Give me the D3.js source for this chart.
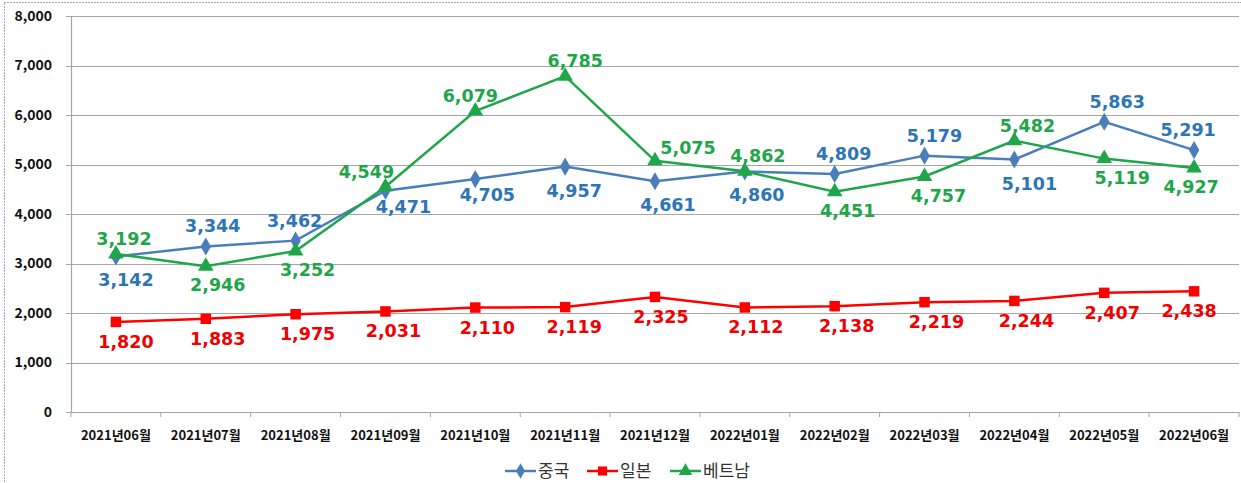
<!DOCTYPE html>
<html>
<head>
<meta charset="utf-8">
<script src="https://cdn.jsdelivr.net/npm/d3@7"></script>
<style>
  body { margin: 0; background: #fff; }
  text { font-family: "Noto Sans CJK KR", "Noto Sans", sans-serif; }
</style>
</head>
<body>
<div id="chart-area"></div>
<script>
// data
var months = ["2021년06월", "2021년07월", "2021년08월", "2021년09월", "2021년10월", "2021년11월",
              "2021년12월", "2022년01월", "2022년02월", "2022년03월", "2022년04월", "2022년05월", "2022년06월"];
var china   = [3142, 3344, 3462, 4471, 4705, 4957, 4661, 4860, 4809, 5179, 5101, 5863, 5291];
var japan   = [1820, 1883, 1975, 2031, 2110, 2119, 2325, 2112, 2138, 2219, 2244, 2407, 2438];
var vietnam = [3192, 2946, 3252, 4549, 6079, 6785, 5075, 4862, 4451, 4757, 5482, 5119, 4927];
var yTicks  = [0, 1000, 2000, 3000, 4000, 5000, 6000, 7000, 8000];
var names   = ["중국", "일본", "베트남"];

// label placement: "t" above, "b" below, "r" beside; plus manual nudges as in the original
var chinaPos   = ["b","t","t","b","b","b","b","b","t","t","b","t","t"];
var japanPos   = ["b","b","b","b","b","b","b","b","b","b","b","b","b"];
var vietnamPos = ["t","b","b","t","t","t","r","t","b","b","t","b","b"];
var chinaDx    = [10, 7, -1, 18, 12, 9, 13, 12, 9, 10, 15, 13, -6];
var japanDx    = [10, 12, 12, 8, 12, 9, 6, 11, 12, 12, 12, 8, -5];
var vietnamDx  = [8, 12, 12, -19, -5, 10, 33, 13, 13, 14, 13, 18, -3];
var chinaDy    = [0, 0, 0, -8, -8, 0, 0, 0, 0, 0, 0, 0, 0];

var W = 1241, H = 483;
var margin = { left: 71, right: 2, top: 16, bottom: 71 };
var width = W - margin.left - margin.right,
    height = H - margin.top - margin.bottom;

var svg = d3.select("#chart-area")
    .append("svg")
        .attr("width", W)
        .attr("height", H);

// dotted outer frame
svg.append("rect")
    .attr("x", 4.5).attr("y", 2.5)
    .attr("width", W + 10).attr("height", H + 10)
    .attr("fill", "none")
    .attr("stroke", "#555")
    .attr("stroke-width", 1)
    .attr("stroke-dasharray", "1,2");

var g = svg.append("g")
    .attr("transform", "translate(" + margin.left + "," + margin.top + ")");

var x = d3.scaleBand()
    .domain(months)
    .range([0, width]);

var y = d3.scaleLinear()
    .domain([0, 8000])
    .range([height, 0]);

// gridlines
g.append("g")
    .selectAll("line")
    .data(yTicks)
    .enter().append("line")
        .attr("x1", -5)
        .attr("x2", width)
        .attr("y1", d => Math.round(y(d)) + 0.5)
        .attr("y2", d => Math.round(y(d)) + 0.5)
        .attr("stroke", "#a6a6a6")
        .attr("stroke-width", 1.2);

// y axis
var yAxisCall = d3.axisLeft(y)
    .tickValues(yTicks)
    .tickSize(0)
    .tickPadding(19)
    .tickFormat(d3.format(","));
var yAx = g.append("g").call(yAxisCall);
yAx.select(".domain").attr("stroke", "#a6a6a6").attr("stroke-width", 1.2);
yAx.selectAll("text")
    .attr("font-size", "14px")
    .attr("font-weight", "bold")
    .attr("fill", "#111");

// x axis
var xAxisCall = d3.axisBottom(x).tickSize(0).tickPadding(19);
var xAx = g.append("g")
    .attr("transform", "translate(0," + height + ")")
    .call(xAxisCall);
xAx.select(".domain").attr("stroke", "#a6a6a6").attr("stroke-width", 1.2);
xAx.selectAll("text")
    .attr("font-size", "13px")
    .attr("font-weight", "bold")
    .attr("fill", "#111");
xAx.append("g")
    .selectAll("line")
    .data(months.concat(["end"]))
    .enter().append("line")
        .attr("x1", (d, i) => i * x.bandwidth())
        .attr("x2", (d, i) => i * x.bandwidth())
        .attr("y1", 0).attr("y2", 5)
        .attr("stroke", "#a6a6a6");

var zeros = months.map(() => 0);
var series = [
    { name: names[0], values: china,   pos: chinaPos,   dx: chinaDx,   dy: chinaDy, above: -14, below: 30,
      color: "#4a7ebb", label: "#2e75b6", symbol: d3.symbolDiamond,  size: 95 },
    { name: names[1], values: japan,   pos: japanPos,   dx: japanDx,   dy: zeros,   above: -12, below: 26,
      color: "#ff0000", label: "#f00000", symbol: d3.symbolSquare,   size: 110 },
    { name: names[2], values: vietnam, pos: vietnamPos, dx: vietnamDx, dy: zeros,   above: -9,  below: 25,
      color: "#1fa64a", label: "#1fa64a", symbol: d3.symbolTriangle, size: 105 }
];

var cx = (d, i) => x(months[i]) + x.bandwidth() / 2;

var line = d3.line()
    .x(cx)
    .y(d => y(d));

series.forEach(s => {
    g.append("path")
        .datum(s.values)
        .attr("fill", "none")
        .attr("stroke", s.color)
        .attr("stroke-width", 2.5)
        .attr("d", line);

    g.selectAll(null)
        .data(s.values)
        .enter().append("path")
            .attr("d", d3.symbol().type(s.symbol).size(s.size))
            .attr("transform", (d, i) => "translate(" + cx(d, i) + "," + y(d) + ")")
            .attr("fill", s.color);
});

series.forEach(s => {
    g.selectAll(null)
        .data(s.values)
        .enter().append("text")
            .attr("x", (d, i) => cx(d, i) + s.dx[i])
            .attr("y", (d, i) => {
                var p = s.pos[i];
                var off = p === "t" ? s.above : (p === "r" ? -7 : s.below);
                return y(d) + off + s.dy[i];
            })
            .attr("text-anchor", "middle")
            .style("font-family", "'DejaVu Sans', sans-serif")
            .style("font-size", "17.5px")
            .style("font-weight", "bold")
            .attr("fill", s.label)
            .text(d => d3.format(",")(d));
});

// legend
var legend = svg.append("g").attr("transform", "translate(505,471)");
var lx = [0, 82, 165];
series.forEach((s, i) => {
    var lg = legend.append("g").attr("transform", "translate(" + lx[i] + ",0)");
    lg.append("line")
        .attr("x1", 0).attr("x2", 31)
        .attr("stroke", s.color).attr("stroke-width", 2.5);
    lg.append("path")
        .attr("d", d3.symbol().type(s.symbol).size(s.size * 0.75))
        .attr("transform", "translate(15.5,0)")
        .attr("fill", s.color);
    lg.append("text")
        .attr("x", 33).attr("y", 6)
        .attr("font-size", "17px")
        .attr("fill", "#333")
        .text(s.name);
});
</script>
</body>
</html>
